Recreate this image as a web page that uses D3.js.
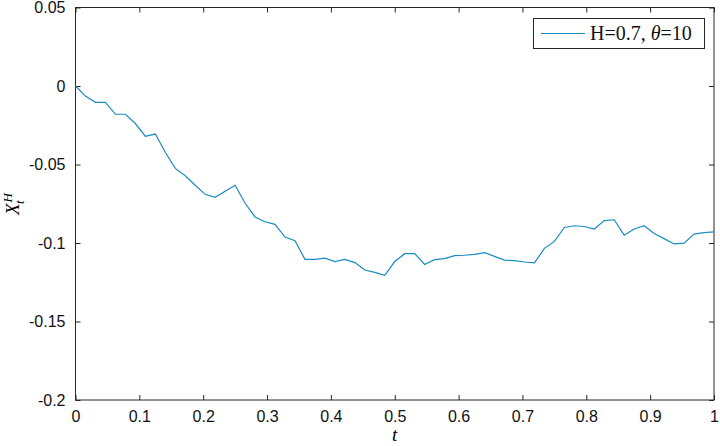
<!DOCTYPE html>
<html><head><meta charset="utf-8">
<script src="https://cdn.jsdelivr.net/npm/d3@7"></script>
<style>body{margin:0;background:#fff;}svg{display:block;}</style>
</head><body>
<svg id="c" width="720" height="446"></svg>
<script>
const tValues = d3.range(65).map(i => i / 64);
const xValues = [0,-0.0064,-0.0104,-0.0104,-0.0180,-0.0180,-0.0239,-0.0320,-0.0306,-0.0422,
-0.0525,-0.0572,-0.0632,-0.0690,-0.0709,-0.0671,-0.0632,-0.0747,-0.0834,-0.0865,
-0.0881,-0.0962,-0.0985,-0.1104,-0.1104,-0.1097,-0.1118,-0.1104,-0.1125,-0.1172,
-0.1187,-0.1206,-0.1118,-0.1068,-0.1068,-0.1137,-0.1106,-0.1099,-0.1080,-0.1078,
-0.1072,-0.1061,-0.1085,-0.1109,-0.1112,-0.1121,-0.1127,-0.1034,-0.0990,-0.0901,
-0.0890,-0.0895,-0.0911,-0.0857,-0.0852,-0.0950,-0.0911,-0.0890,-0.0939,-0.0972,
-0.1006,-0.1001,-0.0943,-0.0934,-0.0929];
const xTicks = [0,0.1,0.2,0.3,0.4,0.5,0.6,0.7,0.8,0.9,1];
const yTicks = [0.05,0,-0.05,-0.1,-0.15,-0.2];

const L = 75.5, R = 714, T = 7.5, B = 400;
const svg = d3.select("#c");
const x = d3.scaleLinear().domain([0,1]).range([L,R]);
const y = d3.scaleLinear().domain([-0.2,0.05]).range([B,T]);
const axCol = "#262626";
const lineCol = "#1a8cc0";
const fmt = d => d === 0 ? "0" : String(d);
const sans = "'Liberation Sans', Arial, Helvetica, sans-serif";
const serif = "'Liberation Serif', 'DejaVu Serif', serif";

svg.append("rect").attr("x",L).attr("y",T).attr("width",R-L).attr("height",B-T)
  .attr("fill","none").attr("stroke",axCol).attr("stroke-width",1);

const tl = 5;
const gx = svg.append("g").attr("transform",`translate(0,${B})`)
  .call(d3.axisBottom(x).tickValues(xTicks).tickFormat(fmt).tickSizeInner(-tl).tickSizeOuter(0).tickPadding(11));
const gxt = svg.append("g").attr("transform",`translate(0,${T})`)
  .call(d3.axisTop(x).tickValues(xTicks).tickFormat("").tickSizeInner(-tl).tickSizeOuter(0));
const gy = svg.append("g").attr("transform",`translate(${L},0)`)
  .call(d3.axisLeft(y).tickValues(yTicks).tickFormat(fmt).tickSizeInner(-tl).tickSizeOuter(0).tickPadding(10));
const gyr = svg.append("g").attr("transform",`translate(${R},0)`)
  .call(d3.axisRight(y).tickValues(yTicks).tickFormat("").tickSizeInner(-tl).tickSizeOuter(0));
[gx,gxt,gy,gyr].forEach(g=>{
  g.select(".domain").remove();
  g.selectAll("line").attr("stroke",axCol);
  g.selectAll("text").attr("fill","#111").style("font-family",sans).style("font-size","16px");
});

svg.append("path").datum(tValues.map((t,i)=>[t,xValues[i]]))
  .attr("fill","none").attr("stroke",lineCol).attr("stroke-width",1.2)
  .attr("d", d3.line().x(d=>x(d[0])).y(d=>y(d[1])));

svg.append("text").attr("x",(L+R)/2).attr("y",441).attr("text-anchor","middle")
  .style("font-family",serif).style("font-style","italic").style("font-size","19px").text("t");
const yl = svg.append("text").attr("transform","translate(19,204) rotate(-90)").attr("text-anchor","middle")
  .style("font-family",serif).style("font-style","italic").style("font-size","19px");
yl.append("tspan").text("X");
yl.append("tspan").attr("dx",1).attr("dy",-7).style("font-size","13px").text("H");
yl.append("tspan").attr("dx",-11).attr("dy",12).style("font-size","13px").text("t");

const lg = svg.append("g");
lg.append("rect").attr("x",533.5).attr("y",18.5).attr("width",171).attr("height",30)
  .attr("fill","#fff").attr("stroke",axCol).attr("stroke-width",1);
lg.append("line").attr("x1",541).attr("x2",585).attr("y1",33.5).attr("y2",33.5)
  .attr("stroke",lineCol).attr("stroke-width",1.2);
const lt = lg.append("text").attr("x",590).attr("y",40)
  .style("font-family",serif).style("font-size","20px").attr("fill","#111");
lt.append("tspan").text("H=0.7, ");
lt.append("tspan").style("font-style","italic").text("θ");
lt.append("tspan").text("=10");
</script>
</body></html>
